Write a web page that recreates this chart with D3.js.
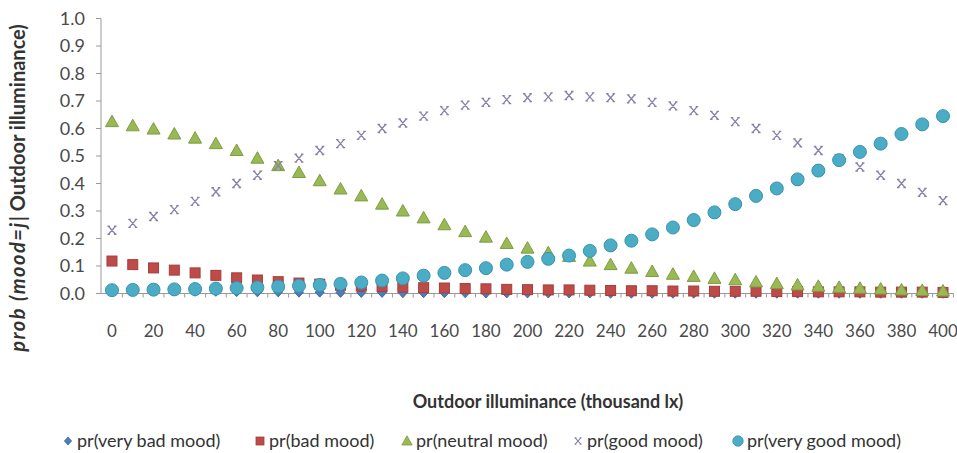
<!DOCTYPE html>
<html>
<head>
<meta charset="utf-8">
<script src="https://cdn.jsdelivr.net/npm/d3@7"></script>
<style>
  body { margin: 0; background: #fff; }
  text { font-family: Lato, "Open Sans", sans-serif; }
</style>
</head>
<body>
<div id="chart"></div>
<script>
// outdoor illuminance categories (thousand lx)
const categories = [0, 10, 20, 30, 40, 50, 60, 70, 80, 90, 100, 110, 120, 130, 140, 150, 160, 170, 180, 190,
    200, 210, 220, 230, 240, 250, 260, 270, 280, 290, 300, 310, 320, 330, 340, 350, 360, 370, 380, 390, 400];
const tickLabels = [0, 20, 40, 60, 80, 100, 120, 140, 160, 180, 200, 220, 240, 260, 280, 300, 320, 340, 360, 380, 400];
const yTicks = [0, 0.1, 0.2, 0.3, 0.4, 0.5, 0.6, 0.7, 0.8, 0.9, 1.0];

const veryBad = [0.012, 0.011, 0.010, 0.009, 0.008, 0.008, 0.007, 0.006, 0.006, 0.005, 0.005, 0.004, 0.004, 0.004,
    0.003, 0.003, 0.003, 0.003, 0.002, 0.002, 0.002, 0.002, 0.002, 0.002, 0.001, 0.001, 0.001, 0.001, 0.001, 0.001,
    0.001, 0.001, 0.001, 0.001, 0.001, 0.001, 0.001, 0.001, 0.001, 0.001, 0.001];
const bad = [0.118, 0.105, 0.093, 0.085, 0.075, 0.066, 0.057, 0.049, 0.043, 0.038, 0.034, 0.030, 0.027, 0.025,
    0.023, 0.021, 0.020, 0.018, 0.017, 0.015, 0.014, 0.013, 0.013, 0.012, 0.011, 0.010, 0.010, 0.009, 0.009, 0.008,
    0.008, 0.008, 0.007, 0.007, 0.006, 0.006, 0.006, 0.005, 0.005, 0.005, 0.004];
const neutral = [0.625, 0.610, 0.598, 0.580, 0.565, 0.545, 0.520, 0.492, 0.465, 0.440, 0.410, 0.380, 0.355, 0.325,
    0.300, 0.275, 0.250, 0.225, 0.205, 0.182, 0.165, 0.148, 0.135, 0.118, 0.105, 0.092, 0.080, 0.070, 0.062, 0.055,
    0.050, 0.042, 0.036, 0.031, 0.026, 0.022, 0.019, 0.016, 0.013, 0.011, 0.009];
const good = [0.230, 0.255, 0.280, 0.305, 0.335, 0.370, 0.400, 0.430, 0.465, 0.492, 0.520, 0.545, 0.575, 0.600,
    0.620, 0.645, 0.665, 0.685, 0.695, 0.705, 0.712, 0.715, 0.720, 0.715, 0.712, 0.708, 0.695, 0.682, 0.665, 0.648,
    0.625, 0.600, 0.575, 0.548, 0.520, 0.490, 0.460, 0.430, 0.400, 0.368, 0.338];
const veryGood = [0.012, 0.013, 0.014, 0.015, 0.016, 0.018, 0.020, 0.022, 0.025, 0.028, 0.031, 0.035, 0.040, 0.047,
    0.055, 0.065, 0.075, 0.085, 0.092, 0.105, 0.115, 0.126, 0.138, 0.155, 0.175, 0.192, 0.215, 0.240, 0.267, 0.295,
    0.325, 0.355, 0.382, 0.415, 0.447, 0.485, 0.515, 0.545, 0.580, 0.615, 0.645];

const seriesNames = ["pr(very bad mood)", "pr(bad mood)", "pr(neutral mood)", "pr(good mood)", "pr(very good mood)"];
const seriesValues = [veryBad, bad, neutral, good, veryGood];
const seriesColors = ["#4a7ebb", "#be4b48", "#98b954", "#8a7fa6", "#4bacc6"];
const seriesStrokes = ["#3a6aa5", "#a53d3a", "#7f9c43", "#7a6e98", "#3b93ab"];
const seriesShapes = ["diamond", "square", "triangle", "cross", "circle"];

const width = 957, height = 453;
const svg = d3.select("#chart").append("svg")
    .attr("width", width)
    .attr("height", height);

const x = d3.scaleBand().domain(categories).range([101.6, 953.4]);
const y = d3.scaleLinear().domain([0, 1]).range([293.5, 18.5]);

// draws one marker centred on 0,0
function marker(sel, shape, i) {
    const fill = seriesColors[i], stroke = seriesStrokes[i];
    if (shape === "circle") {
        sel.append("circle").attr("r", 6.5).attr("fill", fill).attr("stroke", stroke).attr("stroke-width", 1);
    } else if (shape === "square") {
        sel.append("rect").attr("x", -5).attr("y", -5).attr("width", 10).attr("height", 10)
            .attr("fill", fill).attr("stroke", stroke).attr("stroke-width", 1);
    } else if (shape === "triangle") {
        sel.append("path").attr("d", "M0,-6.5L6.5,5L-6.5,5Z").attr("fill", fill).attr("stroke", stroke).attr("stroke-width", 1);
    } else if (shape === "diamond") {
        sel.append("path").attr("d", "M0,-5L4.5,0L0,5L-4.5,0Z").attr("fill", fill).attr("stroke", stroke).attr("stroke-width", 1);
    } else {
        sel.append("path").attr("d", "M-3.5,-4L3.5,4M3.5,-4L-3.5,4M-4.5,-4H-2M2,-4H4.5M-4.5,4H-2M2,4H4.5")
            .attr("fill", "none").attr("stroke", fill).attr("stroke-width", 1.3);
    }
}

// y axis
const yAxis = svg.append("g");
yAxis.append("line")
    .attr("x1", 101).attr("x2", 101)
    .attr("y1", y(1)).attr("y2", y(0))
    .attr("stroke", "#9a9a9a");
yAxis.selectAll(".ytick").data(yTicks).enter().append("line")
    .attr("x1", 96).attr("x2", 101)
    .attr("y1", d => y(d)).attr("y2", d => y(d))
    .attr("stroke", "#9a9a9a");
yAxis.selectAll(".ylabel").data(yTicks).enter().append("text")
    .attr("x", 85)
    .attr("y", d => y(d))
    .attr("dy", "0.36em")
    .attr("text-anchor", "end")
    .attr("font-size", 18)
    .attr("fill", "#4a4a4a")
    .text(d => d.toFixed(1));

// x axis
const xAxis = svg.append("g");
xAxis.append("line")
    .attr("x1", 101).attr("x2", 953.4)
    .attr("y1", y(0)).attr("y2", y(0))
    .attr("stroke", "#9a9a9a");
xAxis.selectAll(".xtick").data(categories).enter().append("line")
    .attr("x1", d => x(d) + x.bandwidth()).attr("x2", d => x(d) + x.bandwidth())
    .attr("y1", y(0)).attr("y2", y(0) + 4)
    .attr("stroke", "#9a9a9a");
xAxis.selectAll(".xlabel").data(tickLabels).enter().append("text")
    .attr("x", d => x(d) + x.bandwidth() / 2)
    .attr("y", 337)
    .attr("text-anchor", "middle")
    .attr("font-size", 17)
    .attr("fill", "#4a4a4a")
    .text(d => d);

// markers
seriesValues.forEach((vals, i) => {
    const g = svg.append("g");
    g.selectAll("g").data(vals).enter().append("g")
        .attr("transform", (d, k) => "translate(" + (x(categories[k]) + x.bandwidth() / 2) + "," + y(d) + ")")
        .each(function () { marker(d3.select(this), seriesShapes[i], i); });
});

// axis titles
svg.append("text")
    .attr("x", 548)
    .attr("y", 408)
    .attr("text-anchor", "middle")
    .attr("font-size", 18)
    .attr("font-weight", "bold")
    .attr("fill", "#333")
    .text("Outdoor illuminance (thousand lx)");

const yTitle = svg.append("text")
    .attr("transform", "translate(25,188) rotate(-90)")
    .attr("text-anchor", "middle")
    .attr("font-size", 20)
    .attr("font-weight", "bold")
    .attr("fill", "#333");
yTitle.append("tspan").attr("font-style", "italic").attr("letter-spacing", 1.5).text("prob (mood=j");
yTitle.append("tspan").text("| Outdoor illuminance)");

// legend
const legendX = [68, 260, 407, 578, 738];
const legend = svg.append("g");
seriesNames.forEach((name, i) => {
    const item = legend.append("g").attr("transform", "translate(" + legendX[i] + ",441)");
    const m = item.append("g").attr("transform", "scale(0.8)");
    marker(m, seriesShapes[i], i);
    item.append("text")
        .attr("x", 9)
        .attr("dy", "0.33em")
        .attr("font-size", 18)
        .attr("fill", "#333")
        .text(name);
});
</script>
</body>
</html>
